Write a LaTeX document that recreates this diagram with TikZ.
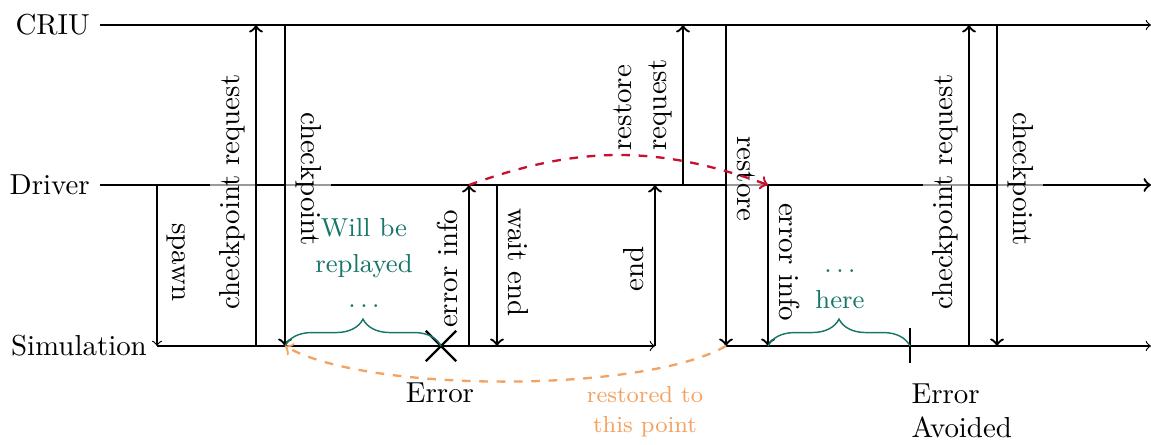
\documentclass[tikz,border=0pt]{standalone}
\usetikzlibrary{decorations.pathreplacing,shapes.misc}
\definecolor{tealg}{HTML}{17766A}
\definecolor{redc}{HTML}{C8102E}
\definecolor{orangec}{HTML}{F4A261}
\begin{document}
\begin{tikzpicture}[x=0.346pt, y=-0.346pt,
  msg/.style={->, thick},
  upl/.style={pos=0.48, rotate=90, anchor=south, fill=white, fill opacity=0.6, text opacity=1},
  dnl/.style={pos=0.48, rotate=-90, anchor=south, fill=white, fill opacity=0.6, text opacity=1},
  note/.style={align=center, inner sep=0pt, text=tealg, font=\fontsize{9}{12.2}\selectfont},
  bracestyle/.style={draw=tealg, line width=0.5pt, decorate, decoration={brace, amplitude=9.3pt}},
]
\useasboundingbox (0,0) rectangle (1151,445);

% lifeline labels
\node[left] (criu) at (100,25) {CRIU};
\node[left] (drv) at (100,185) {Driver};
\node[left] (sim) at (157,346) {Simulation};

% coordinates
\coordinate (criuE) at (1151,25);
\coordinate (drvE) at (1151,185);
\coordinate (simE) at (1151,346);
\coordinate (dSpawn) at (157,185);  \coordinate (sSpawn) at (157,346);
\coordinate (sCpr) at (256,346);    \coordinate (cCpr) at (256,25);
\coordinate (cCp) at (285,25);      \coordinate (sCp) at (285,346);
\coordinate (sErr) at (469,346);    \coordinate (dErr) at (469,185);
\coordinate (dWait) at (497,185);   \coordinate (sWait) at (497,346);
\coordinate (sEnd) at (655,346);    \coordinate (dEnd) at (655,185);
\coordinate (dRr) at (683,185);     \coordinate (cRr) at (683,25);
\coordinate (cRs) at (726,25);      \coordinate (sRs) at (726,346);
\coordinate (dErrB) at (768,185);   \coordinate (sErrB) at (768,346);
\coordinate (sCprB) at (969,346);   \coordinate (cCprB) at (969,25);
\coordinate (cCpB) at (997,25);     \coordinate (sCpB) at (997,346);
\coordinate (avoid) at (910,346);
\coordinate (avT) at (910,328);     \coordinate (avB) at (910,363);

% lifelines
\draw[->] (criu.east) -- (criuE);
\draw[->, thick] (drv.east) -- (drvE);
\draw[->] (sim.east) -- (sEnd);
\draw[->] (sRs) -- (simE);

% messages
\draw[->] (dSpawn) -- (sSpawn) node[dnl] (lSpawn) {spawn};
\draw[msg] (sCpr) -- (cCpr) node[upl] (lCpr) {checkpoint request};
\draw[msg] (cCp) -- (sCp) node[dnl] (lCp) {checkpoint};
\draw[msg] (sErr) -- (dErr) node[upl] (lErr) {error info};
\draw[msg] (dWait) -- (sWait) node[dnl] (lWait) {wait end};
\draw[msg] (sEnd) -- (dEnd) node[upl] (lEnd) {end};
\draw[msg] (dRr) -- (cRr) node[upl, pos=0.5, align=left] (lRr) {restore\\request};
\draw[msg] (cRs) -- (sRs) node[dnl] (lRs) {restore};
\draw[msg] (dErrB) -- (sErrB) node[dnl] (lErrB) {error info};
\draw[msg] (sCprB) -- (cCprB) node[upl] (lCprB) {checkpoint request};
\draw[msg] (cCpB) -- (sCpB) node[dnl] (lCpB) {checkpoint};

% error marks and braces
\node[draw, cross out, thick, minimum size=9.7pt, inner sep=0pt] (errX) at (441,346) {};
\draw[bracestyle] (sCp) -- (errX.center);
\draw[thick] (avT) -- (avB);
\draw[bracestyle] (sErrB) -- (avoid);

\node[note, anchor=south] (replay) at (364,308) {Will be\\replayed\\$\dots$};
\node[note, anchor=south] (here) at (840,309) {$\dots$\\here};
\node[anchor=base] (errL) at (440,403) {Error};
\node[anchor=north west, align=left, inner sep=0pt] (avL) at (911,383) {Error\\Avoided};
\node[anchor=north, align=center, inner sep=0pt, text=orangec, font=\fontsize{8}{10.3}\selectfont] (restL) at (645,386) {restored to\\this point};

% dashed curves
\draw[->, thick, dashed, redc] (dErr) to[bend left=20] (dErrB);
\draw[->, thick, dashed, orangec] (sRs) to[bend left=30, looseness=0.55] (sCp);
\end{tikzpicture}
\end{document}
